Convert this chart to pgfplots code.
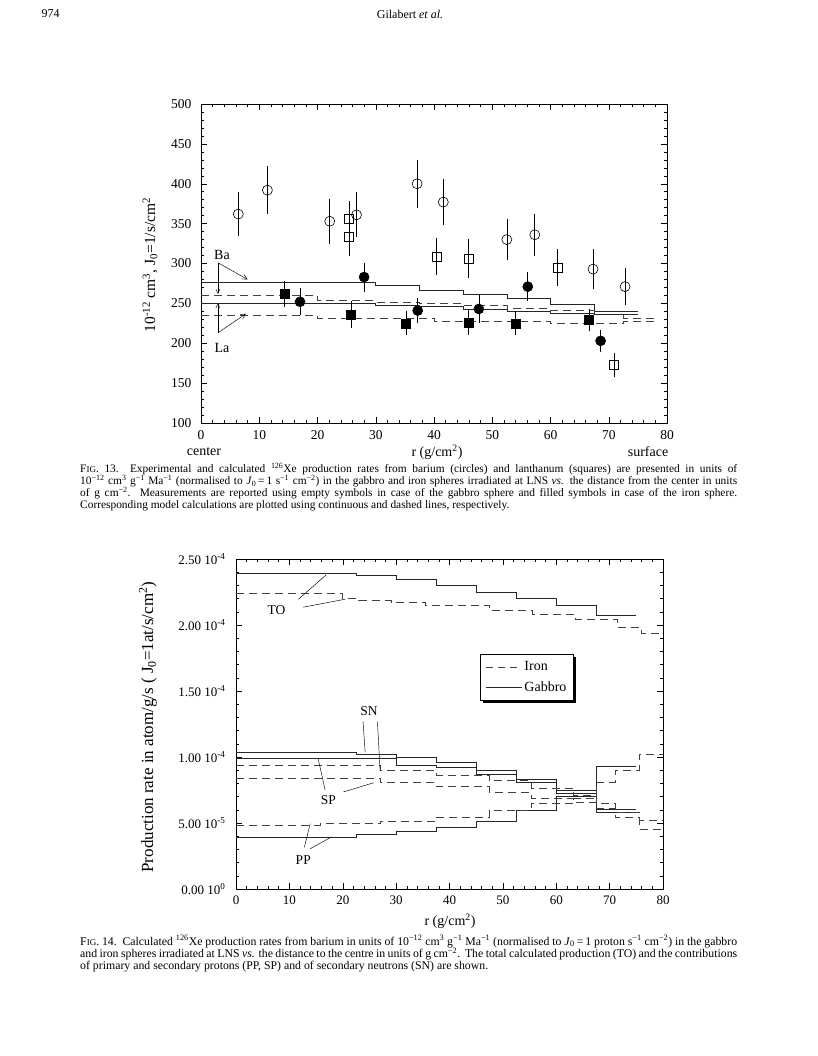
\documentclass[border=0pt]{standalone}
\usepackage{fontspec}
\setmainfont{Liberation Serif}
\usepackage{pgfplots}
\usepackage{pgfplotstable}
\pgfplotsset{compat=1.18}
\usetikzlibrary{arrows.meta}

% ---------- Fig 13 data ----------
\pgfplotstableread{
x y e
6.4 362 25
11.4 392 27
22.1 353 25
26.7 361 25
37.1 400 27
41.6 377 26
52.5 330 23
57.3 336 23
67.3 293 22
72.8 271 20
}\bagab
\pgfplotstableread{
x y e
25.4 356 19
25.4 334 22
40.4 309 20
45.9 306 21
61.2 295 20
70.9 173 12
}\lagab
\pgfplotstableread{
x y e
17.0 252 14
28.0 283 15
37.2 241 13
47.7 243 14
56.1 271 15
68.6 203 11
}\bairon
\pgfplotstableread{
x y e
14.3 262 13
25.8 236 14
35.2 225 12
45.9 226 12
54.0 225 12
66.6 229 11
}\lairon

\pgfplotsset{
  sol/.style={const plot, no marks, line width=0.55pt, black!85, forget plot},
  das/.style={const plot, no marks, line width=0.55pt, black!75, dash pattern=on 8pt off 5pt, forget plot},
}

\newcommand{\capline}[1]{\makebox[657pt][s]{#1}}
\newcommand{\FIG}{F{\fontsize{9}{10}\selectfont IG}.}

\begin{document}
\begin{tikzpicture}
\fill[white] (0pt,0pt) rectangle (817pt,-1056pt);
\useasboundingbox (0pt,0pt) rectangle (817pt,-1056pt);

% header
\node[anchor=west,font=\fontsize{12}{14}\selectfont] at (38pt,-14pt) {974};
\node[font=\fontsize{12}{14}\selectfont] at (410pt,-14pt) {Gilabert \textit{et al.}};

% ================= FIG 13 =================
\begin{axis}[
  at={(201pt,-423pt)}, anchor=south west,
  scale only axis, width=466pt, height=319pt,
  xmin=0, xmax=80, ymin=100, ymax=500,
  xtick={0,10,...,80}, ytick={100,150,...,500},
  minor x tick num=4, minor y tick num=4,
  tick align=inside, major tick length=6pt, minor tick length=3pt,
  axis line style={line width=0.6pt},
  every tick/.style={line width=0.5pt, black},
  ticklabel style={font=\fontsize{13.5}{15}\selectfont},
  /pgf/number format/assume math mode=true,
  xticklabel style={yshift=-4pt},
  yticklabel style={xshift=-6pt},
  clip=false,
]
% calculations
\addplot[sol] coordinates {(0,276) (30,273) (37.5,267) (45,261) (52.5,256) (60,249) (67.5,240) (75,240)};
\addplot[das] coordinates {(0,260) (20,254) (30,252) (37.5,250) (45,247) (52.5,244) (60,241) (67.5,236) (72.5,231) (78,231)};
\addplot[sol] coordinates {(0,250) (30,248) (37.5,246) (45,242) (52.5,240) (60,238) (67.5,236) (75,236)};
\addplot[das] coordinates {(0,235) (20,231) (40,228) (60,225) (72.5,227) (78,224)};
% measurements
\addplot[only marks, mark=o, mark size=5pt, line width=0.6pt, mark options={fill=white},
  error bars/.cd, y dir=both, y explicit, error bar style={line width=0.6pt},
  error mark options={mark size=2.5pt, line width=0.6pt}]
  table[x=x, y=y, y error=e] {\bagab};
\addplot[only marks, mark=square, mark size=4.5pt, line width=0.6pt, mark options={fill=white},
  error bars/.cd, y dir=both, y explicit, error bar style={line width=0.6pt},
  error mark options={mark size=2.5pt, line width=0.6pt}]
  table[x=x, y=y, y error=e] {\lagab};
\addplot[only marks, mark=*, mark size=5pt, line width=0.6pt,
  error bars/.cd, y dir=both, y explicit, error bar style={line width=0.6pt},
  error mark options={mark size=2.5pt, line width=0.6pt}]
  table[x=x, y=y, y error=e] {\bairon};
\addplot[only marks, mark=square*, mark size=4.5pt, line width=0.6pt,
  error bars/.cd, y dir=both, y explicit, error bar style={line width=0.6pt},
  error mark options={mark size=2.5pt, line width=0.6pt}]
  table[x=x, y=y, y error=e] {\lairon};
% annotations
\node[font=\fontsize{14}{16}\selectfont] at (axis cs:3.6,311) {Ba};
\node[font=\fontsize{14}{16}\selectfont] at (axis cs:3.6,194) {La};
\draw[line width=0.45pt, -{Straight Barb[length=5pt,width=5pt]}] (axis cs:2.9,301) -- (axis cs:8.0,280);
\draw[line width=0.45pt, -{Straight Barb[length=4pt,width=4pt]}] (axis cs:2.9,301) -- (axis cs:2.9,262);
\draw[line width=0.45pt, -{Straight Barb[length=5pt,width=5pt]}] (axis cs:2.9,213) -- (axis cs:7.7,237);
\draw[line width=0.45pt, -{Straight Barb[length=4pt,width=4pt]}] (axis cs:2.9,213) -- (axis cs:2.9,250);
\end{axis}

\node[rotate=90,font=\fontsize{15.5}{17}\selectfont] at (150pt,-265pt)
  {10\textsuperscript{-12} cm\textsuperscript{3}, J\textsubscript{0}=1/s/cm\textsuperscript{2}};
\node[font=\fontsize{14}{16}\selectfont] at (204pt,-452pt) {center};
\node[font=\fontsize{14}{16}\selectfont] at (437pt,-452pt) {r (g/cm\textsuperscript{2})};
\node[font=\fontsize{14}{16}\selectfont] at (648pt,-452pt) {surface};

% caption 13
\node[anchor=north west, inner sep=0pt, font=\fontsize{11.4}{12}\selectfont, align=left] at (80pt,-463pt) {%
\capline{\FIG\ 13.\ \ Experimental and calculated \textsuperscript{126}Xe production rates from barium (circles) and lanthanum (squares) are presented in units of}\\
\capline{10\textsuperscript{−12} cm\textsuperscript{3} g\textsuperscript{−1} Ma\textsuperscript{−1} (normalised to \textit{J}\textsubscript{0}\,=\,1 s\textsuperscript{−1} cm\textsuperscript{−2}) in the gabbro and iron spheres irradiated at LNS \textit{vs.} the distance from the center in units}\\
\capline{of g cm\textsuperscript{−2}.\ \ Measurements are reported using empty symbols in case of the gabbro sphere and filled symbols in case of the iron sphere.}\\
Corresponding model calculations are plotted using continuous and dashed lines, respectively.};

% ================= FIG 14 =================
\begin{axis}[
  at={(236pt,-889pt)}, anchor=south west,
  scale only axis, width=427pt, height=330pt,
  xmin=0, xmax=80, ymin=0, ymax=25,
  xtick={0,10,...,80}, ytick={0,5,...,25},
  yticklabels={0.00 10\textsuperscript{0}, 5.00 10\textsuperscript{-5}, 1.00 10\textsuperscript{-4}, 1.50 10\textsuperscript{-4}, 2.00 10\textsuperscript{-4}, 2.50 10\textsuperscript{-4}},
  minor x tick num=4, minor y tick num=4,
  tick align=inside, major tick length=6pt, minor tick length=3pt,
  axis line style={line width=0.6pt},
  every tick/.style={line width=0.5pt, black},
  ticklabel style={font=\fontsize{13}{15}\selectfont},
  /pgf/number format/assume math mode=true,
  xticklabel style={yshift=-3pt},
  yticklabel style={xshift=-7pt},
  clip=false,
  legend style={at={(axis cs:45.8,17.8)}, anchor=north west, draw=black, line width=0.9pt,
    fill=white, name=LEG,
    font=\fontsize{14}{16}\selectfont, row sep=6pt, inner xsep=5pt, inner ysep=5pt},
  legend cell align=left,
  legend image code/.code={\draw[#1] (0pt,0pt) -- (36pt,0pt);},
]
\addlegendimage{line width=0.55pt, black!75, dash pattern=on 7pt off 5pt}
\addlegendentry{Iron}
\addlegendimage{line width=0.55pt, black!85}
\addlegendentry{Gabbro}
% TO
\addplot[sol] coordinates {(0,23.9) (22.5,23.8) (30,23.45) (37.5,23.0) (45,22.5) (52.5,22.0) (60,21.5) (67.5,20.7) (75,20.7)};
\addplot[das] coordinates {(0,22.4) (20,22.0) (23,21.85) (29,21.7) (35.5,21.5) (47.4,21.1) (55.5,20.8) (63.5,20.4) (71.5,19.8) (76,19.35) (80,19.35)};
% SN, SP, PP gabbro
\addplot[sol] coordinates {(0,10.35) (22.5,10.2) (30,10.0) (37.5,9.6) (45,9.0) (52.5,8.3) (60,7.45) (67.5,6.05) (75,6.05)};
\addplot[sol] coordinates {(0,9.9) (22.5,9.9) (30,9.4) (37.5,9.2) (45,8.7) (52.5,8.1) (60,7.25) (67.5,5.85) (75,5.85)};
\addplot[sol] coordinates {(0,3.95) (22.5,4.15) (30,4.4) (37.5,4.67) (45,5.1) (52.5,5.95) (60,7.05) (67.5,9.3) (75,9.3)};
% SN, SP, PP iron
\addplot[das] coordinates {(0,9.35) (15.8,9.35) (27,9.0) (37.5,8.65) (47.4,8.2) (55.3,7.65) (63.2,7.1) (67.5,6.5) (71.1,5.8) (75.5,5.2) (80,5.2)};
\addplot[das] coordinates {(0,8.4) (15.8,8.4) (27,8.05) (37.5,7.75) (47.4,7.35) (55.3,6.9) (63.2,6.6) (67.5,6.1) (71.1,5.4) (75.5,4.5) (80,4.5)};
\addplot[das] coordinates {(0,4.85) (15.8,4.95) (27,5.15) (37.5,5.45) (47.4,6.0) (55.3,6.5) (63.2,6.9) (67.5,8.1) (71.1,9.0) (75.5,10.2) (80,10.2)};
% annotations
\node[font=\fontsize{13.5}{15}\selectfont] at (axis cs:7.6,21.1) {TO};
\draw[line width=0.45pt] (axis cs:11.7,21.95) -- (axis cs:16.9,23.8);
\draw[line width=0.45pt] (axis cs:12.6,21.35) -- (axis cs:20.4,21.95);
\node[font=\fontsize{13.5}{15}\selectfont] at (axis cs:24.9,13.5) {SN};
\draw[line width=0.45pt] (axis cs:23.8,12.7) -- (axis cs:24.2,10.35);
\draw[line width=0.45pt] (axis cs:26.5,12.7) -- (axis cs:27.0,8.95);
\node[font=\fontsize{13.5}{15}\selectfont] at (axis cs:17.3,6.7) {SP};
\draw[line width=0.45pt] (axis cs:16.7,7.5) -- (axis cs:15.4,9.85);
\draw[line width=0.45pt] (axis cs:20.1,7.35) -- (axis cs:25.8,8.05);
\node[font=\fontsize{13.5}{15}\selectfont] at (axis cs:12.6,2.2) {PP};
\draw[line width=0.45pt] (axis cs:12.8,3.15) -- (axis cs:13.9,4.95);
\draw[line width=0.45pt] (axis cs:13.9,3.05) -- (axis cs:17.9,3.95);
\end{axis}
% legend shadow
\draw[line width=2.2pt, black] ([xshift=1.5pt,yshift=-3pt]LEG.north east) -- ([xshift=1.5pt,yshift=-1.5pt]LEG.south east) -- ([xshift=3pt,yshift=-1.5pt]LEG.south west);

\node[rotate=90,font=\fontsize{17}{19}\selectfont] at (148pt,-727pt)
  {Production rate in atom/g/s ( J\textsubscript{0}=1at/s/cm\textsuperscript{2})};
\node[font=\fontsize{14}{16}\selectfont] at (450pt,-921pt) {r (g/cm\textsuperscript{2})};

% caption 14
\node[anchor=north west, inner sep=0pt, font=\fontsize{11.8}{12.4}\selectfont, align=left] at (80pt,-935pt) {%
\capline{\FIG\ 14.\ \ Calculated \textsuperscript{126}Xe production rates from barium in units of 10\textsuperscript{−12} cm\textsuperscript{3} g\textsuperscript{−1} Ma\textsuperscript{−1} (normalised to \textit{J}\textsubscript{0}\,=\,1 proton s\textsuperscript{−1} cm\textsuperscript{−2}) in the gabbro}\\
\capline{and iron spheres irradiated at LNS \textit{vs.} the distance to the centre in units of g cm\textsuperscript{−2}.\ \ The total calculated production (TO) and the contributions}\\
of primary and secondary protons (PP, SP) and of secondary neutrons (SN) are shown.};
\end{tikzpicture}
\end{document}
